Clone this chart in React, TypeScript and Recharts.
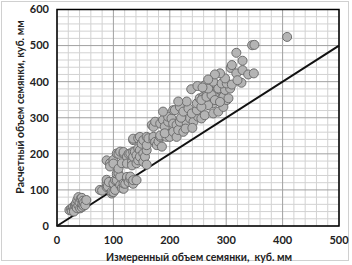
import React from 'react';
import {
  ScatterChart,
  Scatter,
  XAxis,
  YAxis,
  ZAxis,
  CartesianGrid,
  ReferenceLine,
  ReferenceArea,
  Label,
} from 'recharts';

// Measured seed volume (x), cubic mm
const measured = [
  // low cluster
  22, 25, 26, 28, 30, 30, 32, 33, 34, 35, 36, 38, 38, 40, 41, 42, 44, 44, 45, 46, 47, 48, 50, 52,
  // mid cluster
  76, 80, 88, 88, 88, 90, 92, 97, 97, 100, 100, 103, 103, 106, 106, 109, 112, 112, 115, 118, 118, 121, 124, 124, 127, 130, 130, 135, 135, 141,
  // upper-left cluster
  88, 94, 94, 100, 100, 106, 109, 109, 112, 115, 118, 118, 124, 124, 127, 130, 133, 133, 135, 135, 138, 141, 141, 144, 144, 147, 147, 153, 153, 156, 159, 159,
  // band 220-256
  135, 135, 144, 147, 150, 153, 159, 159, 162, 171, 171, 174, 177, 180, 183, 183, 186, 194, 200, 200,
  // band 255-305
  168, 171, 174, 183, 188, 191, 191, 197, 197, 203, 206, 206, 212, 212, 215, 218, 224, 230, 236, 242, 250, 256, 228, 240, 220,
  // band 305-395
  188, 206, 209, 218, 224, 233, 239, 248, 248, 253, 259, 265, 271, 280, 286, 289, 277, 268, 256, 262, 277, 286, 295, 301, 289, 271, 256, 265, 274, 286, 295, 280, 289, 304, 262, 268, 286, 298, 307, 238, 249, 258, 230, 215,
  // upper
  277, 292, 301, 310, 298, 289, 280, 308, 310, 318, 329, 339, 349, 327, 318, 329, 346, 350, 408, 320, 268,
];

// Calculated seed volume (y), cubic mm
const calculated = [
  // low cluster
  44, 48, 42, 52, 45, 40, 58, 55, 63, 50, 72, 80, 57, 66, 49, 75, 78, 52, 60, 70, 56, 65, 58, 72,
  // mid cluster
  100, 98, 108, 118, 128, 110, 122, 90, 95, 94, 118, 100, 127, 127, 145, 146, 113, 137, 105, 103, 118, 117, 132, 136, 122, 131, 137, 117, 127, 127,
  // upper-left cluster
  182, 174, 165, 183, 173, 201, 200, 159, 206, 174, 201, 205, 192, 173, 200, 201, 178, 168, 206, 192, 206, 196, 174, 215, 182, 210, 192, 201, 178, 192, 210, 170,
  // band 220-256
  238, 242, 243, 247, 228, 238, 247, 224, 243, 238, 247, 233, 224, 234, 247, 251, 220, 247, 256, 247,
  // band 255-305
  280, 275, 289, 284, 294, 275, 257, 289, 303, 298, 284, 261, 280, 247, 266, 289, 261, 284, 298, 289, 303, 298, 270, 272, 300,
  // band 305-395
  317, 321, 321, 330, 317, 326, 312, 321, 340, 354, 358, 363, 358, 368, 363, 349, 340, 335, 330, 307, 312, 317, 330, 349, 377, 377, 349, 358, 363, 381, 358, 349, 344, 354, 390, 381, 381, 377, 381, 379, 388, 384, 345, 345,
  // upper
  400, 395, 395, 392, 409, 423, 420, 438, 446, 423, 432, 420, 423, 397, 480, 458, 501, 502, 524, 404, 406,
];

const xTicks = [0, 100, 200, 300, 400, 500];
const yTicks = [0, 100, 200, 300, 400, 500, 600];
const identityLine = [
  { x: 0, y: 0 },
  { x: 500, y: 500 },
];

const xLabel = 'Измеренный объем семянки,  куб. мм';
const yLabel = 'Расчетный объем семянки, куб. мм';

const data = measured.map((x, i) => ({ x, y: calculated[i] }));

const minorX: number[] = [];
for (let v = 20; v < 500; v += 20) if (v % 100 !== 0) minorX.push(v);
const minorY: number[] = [];
for (let v = 20; v < 600; v += 20) if (v % 100 !== 0) minorY.push(v);

const tickStyle = {
  fontFamily: 'Lato, "Open Sans", sans-serif',
  fontWeight: 700,
  fontSize: 11,
  fill: '#222',
};

export default function App() {
  return (
    <div style={{ position: 'relative', width: 352, height: 265, background: '#fff' }}>
      <style>{'body{margin:0}'}</style>
      <div
        style={{
          position: 'absolute',
          left: 1,
          top: 1,
          width: 346,
          height: 258,
          border: '1px solid #d0d0d0',
        }}
      />
      <div style={{ position: 'absolute', left: 0, top: 0 }}>
        <ScatterChart width={352} height={265} margin={{ top: 9.5, right: 13, bottom: 0, left: 0 }}>
          <CartesianGrid verticalValues={minorX} horizontalValues={minorY} stroke="#d2d2d2" strokeWidth={1} />
          <CartesianGrid verticalValues={xTicks} horizontalValues={yTicks} stroke="#a0a0a0" strokeWidth={1} />
          <XAxis
            type="number"
            dataKey="x"
            domain={[0, 500]}
            ticks={xTicks}
            interval={0}
            height={39}
            tickSize={0}
            tickMargin={10}
            axisLine={false}
            tickLine={false}
            tick={tickStyle}
            allowDataOverflow
          >
            <Label
              content={() => (
                <text
                  x={199}
                  y={257}
                  textAnchor="middle"
                  dominantBaseline="central"
                  xmlSpace="preserve"
                  style={{ ...tickStyle, fontSize: 10.5, whiteSpace: 'pre' }}
                >
                  {xLabel}
                </text>
              )}
            />
          </XAxis>
          <YAxis
            type="number"
            dataKey="y"
            domain={[0, 600]}
            ticks={yTicks}
            interval={0}
            width={57}
            tickSize={0}
            tickMargin={8}
            axisLine={false}
            tickLine={false}
            tick={tickStyle}
            allowDataOverflow
          >
            <Label
              content={() => (
                <text
                  x={20}
                  y={107}
                  textAnchor="middle"
                  dominantBaseline="central"
                  transform="rotate(-90 20 107)"
                  style={{ ...tickStyle, fontSize: 10.5 }}
                >
                  {yLabel}
                </text>
              )}
            />
          </YAxis>
          <ZAxis range={[20, 20]} />
          <ReferenceArea
            x1={0}
            x2={500}
            y1={0}
            y2={600}
            fill="none"
            fillOpacity={0}
            stroke="#000"
            strokeWidth={1.5}
            ifOverflow="visible"
          />
          <Scatter
            data={data}
            fill="#b4b4b4"
            stroke="#6e6e6e"
            strokeWidth={1}
            isAnimationActive={false}
          />
          <ReferenceLine segment={identityLine} stroke="#111" strokeWidth={2} ifOverflow="visible" />
        </ScatterChart>
      </div>
    </div>
  );
}
